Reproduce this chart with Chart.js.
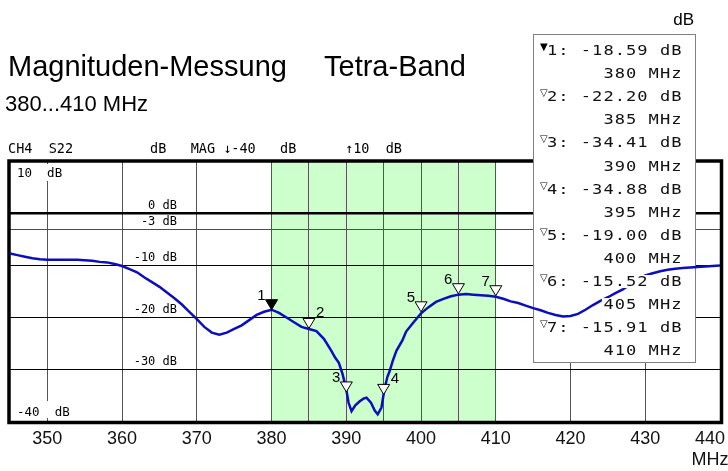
<!DOCTYPE html>
<html><head><meta charset="utf-8">
<script src="https://cdn.jsdelivr.net/npm/chart.js@4/dist/chart.umd.min.js"></script>
<style>html,body{margin:0;padding:0;background:#fff}</style>
</head><body>
<canvas id="c" width="728" height="471"></canvas>
<script>
// ---- data ----
const freqMHz = [345,346,347,348,349,350,351,352,353,354,355,356,357,358,359,360,361,362,363,364,365,366,367,368,369,370,371,372,373,374,375,376,377,378,379,380,381,382,383,384,385,386,387,388,388.5,389,389.5,390,390.3,390.7,391.2,391.8,392.3,392.7,393.3,393.8,394.2,394.7,395.1,395.5,395.8,396.2,396.7,397.5,398,399,400,401,402,403,404,405,406,407,408,409,410,411,412,413,414,415,416,417,418,419,420,421,422,423,424,425,426,427,428,429,430,431,432,433,434,435,436,437,438,439,440];
const magDb = [-7.8,-8.1,-8.4,-8.7,-8.9,-9.0,-9.0,-9.0,-9.0,-9.0,-9.1,-9.2,-9.4,-9.5,-9.8,-10.2,-10.8,-11.4,-12.4,-13.3,-14.2,-15.3,-16.4,-17.6,-19.0,-20.4,-21.9,-23.0,-23.4,-23.0,-22.3,-21.6,-20.6,-19.6,-19.0,-18.6,-19.2,-20.1,-21.0,-21.9,-22.3,-22.7,-24.2,-26.5,-27.8,-28.8,-31.0,-34.0,-36.5,-38.1,-37.0,-36.2,-35.7,-35.5,-36.5,-38.0,-38.7,-37.4,-33.9,-31.5,-30.4,-28.5,-26.5,-24.5,-22.8,-21.0,-19.3,-18.1,-17.1,-16.5,-16.0,-15.7,-15.6,-15.7,-15.8,-15.9,-16.1,-16.5,-17.0,-17.3,-17.8,-18.3,-18.7,-19.2,-19.6,-19.9,-19.8,-19.4,-18.6,-17.7,-16.9,-16.2,-15.4,-14.7,-13.7,-12.8,-12.0,-11.6,-11.2,-10.9,-10.7,-10.6,-10.5,-10.4,-10.3,-10.2,-10.1];
const xTickValues = [350,360,370,380,390,400,410,420,430,440];
const xUnit = 'MHz';
const xMin = 345, xMax = 440;
const yMin = -40, yMax = 10, yStep = 10;
const bandStart = 380, bandEnd = 410, bandSubStep = 5;
const refLineDb = -3;
const yLabelValues = [0, -3, -10, -20, -30];
const yLabelTexts = ['0 dB', '-3 dB', '-10 dB', '-20 dB', '-30 dB'];
const markerNo = [1,2,3,4,5,6,7];
const markerFreq = [380,385,390,395,400,405,410];
const markerDb = [-18.59,-22.20,-34.41,-34.88,-19.00,-15.52,-15.91];
const markerLabelSide = ['left','right','left','right','left','left','left'];
const titleMain = 'Magnituden-Messung';
const titleSecond = 'Tetra-Band';
const subTitle = '380...410 MHz';
const headerLeft = 'CH4  S22';
const headerMid = 'dB   MAG \u2193-40   dB';
const headerRight = '\u219110  dB';
const topLabel = '10  dB';
const bottomLabel = '-40  dB';
const unitTopRight = 'dB';

const MONO = '"DejaVu Sans Mono", "Liberation Mono", monospace';
const SANS = '"Liberation Sans", Arial, sans-serif';

function gridText(ctx, s, xRight, yBase, adv, sx) {
  const n = [...s].length;
  [...s].forEach((ch, i) => {
    ctx.save();
    ctx.translate(xRight - (n - i - 0.5) * adv, yBase);
    ctx.scale(sx, 1);
    ctx.fillText(ch, 0, 0);
    ctx.restore();
  });
}

const deco = {
  id: 'deco',
  beforeDraw(chart) {
    const {ctx, chartArea: a, scales: {x}} = chart;
    ctx.save();
    ctx.fillStyle = '#fff';
    ctx.fillRect(0, 0, chart.width, chart.height);
    const x0 = x.getPixelForValue(bandStart), x1 = x.getPixelForValue(bandEnd);
    ctx.fillStyle = '#ccffcc';
    ctx.fillRect(x0, a.top, x1 - x0, a.bottom - a.top);
    ctx.restore();
  },
  beforeDatasetsDraw(chart) {
    const {ctx, chartArea: a, scales: {x, y}} = chart;
    ctx.save();
    // red reference line
    const yr = Math.round(y.getPixelForValue(refLineDb)) + 0.5;
    ctx.strokeStyle = '#ff0000'; ctx.lineWidth = 1.2;
    ctx.beginPath(); ctx.moveTo(a.left, yr); ctx.lineTo(a.right, yr); ctx.stroke();
    // level labels
    ctx.fillStyle = '#000';
    ctx.font = '12px ' + MONO;
    ctx.textAlign = 'right'; ctx.textBaseline = 'alphabetic';
    yLabelValues.forEach((v, i) => {
      ctx.fillText(yLabelTexts[i], a.left + 167, y.getPixelForValue(v) - 4);
    });
    // top / bottom labels with white background
    ctx.textAlign = 'left';
    ctx.font = '12.5px ' + MONO;
    let w = ctx.measureText(topLabel).width;
    ctx.fillStyle = '#fff'; ctx.fillRect(a.left + 4, a.top + 3, w + 6, 17);
    ctx.fillStyle = '#000'; ctx.fillText(topLabel, a.left + 7, a.top + 16);
    w = ctx.measureText(bottomLabel).width;
    ctx.fillStyle = '#fff'; ctx.fillRect(a.left + 4, a.bottom - 20, w + 6, 17);
    ctx.fillStyle = '#000'; ctx.fillText(bottomLabel, a.left + 7, a.bottom - 5);
    // frame
    ctx.strokeStyle = '#000'; ctx.lineWidth = 3.5;
    ctx.strokeRect(a.left - 1, a.top, a.right - a.left + 2.5, a.bottom - a.top + 1.5);
    // header
    ctx.font = '13.5px ' + MONO;
    ctx.fillStyle = '#000'; ctx.textAlign = 'left';
    ctx.fillText(headerLeft, 8, a.top - 8);
    ctx.fillText(headerMid, 150, a.top - 8);
    ctx.fillText(headerRight, 345, a.top - 8);
    // marker box background
    ctx.fillStyle = '#fff';
    ctx.fillRect(533, 34, 162, 328);
    ctx.strokeStyle = '#808080'; ctx.lineWidth = 1;
    ctx.strokeRect(533.5, 34.5, 162, 328);
    ctx.restore();
  },
  afterDatasetsDraw(chart) {
    const {ctx, scales: {x, y}} = chart;
    ctx.save();
    // markers on trace
    markerNo.forEach((k, i) => {
      const px = x.getPixelForValue(markerFreq[i]);
      const py = y.getPixelForValue(markerDb[i]);
      ctx.beginPath();
      ctx.moveTo(px - 6, py - 10); ctx.lineTo(px + 6, py - 10); ctx.lineTo(px, py); ctx.closePath();
      ctx.fillStyle = i === 0 ? '#000' : '#fff';
      ctx.fill();
      ctx.strokeStyle = '#000'; ctx.lineWidth = 1; ctx.stroke();
      ctx.fillStyle = '#000';
      ctx.font = '15px ' + SANS;
      ctx.textBaseline = 'middle';
      if (markerLabelSide[i] === 'left') {
        ctx.textAlign = 'right';
        ctx.fillText(String(k), px - 6, py - 14);
      } else {
        ctx.textAlign = 'left';
        ctx.fillText(String(k), px + 7, py - 16);
      }
    });
    // marker box text
    const adv = 11.3, xr = 682;
    ctx.textBaseline = 'alphabetic';
    markerNo.forEach((k, i) => {
      const l1 = k + ': ' + markerDb[i].toFixed(2) + ' dB';
      const l2 = markerFreq[i] + ' ' + xUnit;
      [l1, l2].forEach((s, j) => {
        const yb = 55 + (2 * i + j) * 23.1;
        const n = [...s].length;
        ctx.fillStyle = '#fff';
        ctx.fillRect(xr - n * adv - 1, yb - 11, n * adv + 2, 13);
        ctx.fillStyle = '#111';
        ctx.font = '14px ' + MONO;
        ctx.textAlign = 'center';
        gridText(ctx, s, xr, yb, adv, 1.22);
      });
      const yb = 55 + 2 * i * 23.1;
      ctx.font = '10px "DejaVu Sans"';
      ctx.textAlign = 'left';
      ctx.fillStyle = '#000';
      ctx.fillText(i === 0 ? '\u25BC' : '\u25BD', 540, yb - 5);
    });
    ctx.restore();
  },
  afterDraw(chart) {
    const {ctx} = chart;
    ctx.save();
    ctx.fillStyle = '#000';
    ctx.textAlign = 'left'; ctx.textBaseline = 'alphabetic';
    ctx.font = '29px ' + SANS;
    ctx.fillText(titleMain, 8, 76);
    ctx.fillText(titleSecond, 324, 76);
    ctx.font = '22px ' + SANS;
    ctx.fillText(subTitle, 5, 111);
    ctx.font = '17px ' + SANS;
    ctx.textAlign = 'right';
    ctx.fillText(unitTopRight, 694, 25);
    ctx.restore();
  }
};

new Chart(document.getElementById('c'), {
  type: 'line',
  data: {
    datasets: [{
      data: freqMHz.map((f, i) => ({x: f, y: magDb[i]})),
      borderColor: '#0c0cc0',
      borderWidth: 2.5,
      pointRadius: 0,
      tension: 0,
      fill: false
    }]
  },
  options: {
    responsive: false,
    animation: false,
    devicePixelRatio: 1,
    layout: {padding: {left: 10, right: 8, top: 161, bottom: 0}},
    plugins: {legend: {display: false}, tooltip: {enabled: false}, title: {display: false}},
    scales: {
      x: {
        type: 'linear', min: xMin, max: xMax,
        border: {display: false},
        grid: {
          drawTicks: false,
          color: c => {
            const v = c.tick.value;
            if (v % 10 === 0 || (v > bandStart && v < bandEnd && v % bandSubStep === 0)) return '#555';
            return 'rgba(0,0,0,0)';
          },
          lineWidth: 1
        },
        ticks: {
          stepSize: 5, autoSkip: false, maxRotation: 0, padding: 8,
          color: '#111',
          font: {family: SANS, size: 18, lineHeight: 21 / 18},
          callback: v => {
            if (!xTickValues.includes(v)) return '';
            if (v === xTickValues[xTickValues.length - 1]) return [v + '    ', xUnit + '    '];
            return String(v);
          }
        },
        afterFit: s => { s.paddingLeft = 0; s.paddingRight = 0; s.height = 50; }
      },
      y: {
        min: yMin, max: yMax,
        border: {display: false},
        grid: {
          drawTicks: false,
          color: '#000',
          lineWidth: c => c.tick.value === 0 ? 2.5 : 1
        },
        ticks: {display: false, stepSize: yStep}
      }
    }
  },
  plugins: [deco]
});
</script>
</body></html>
